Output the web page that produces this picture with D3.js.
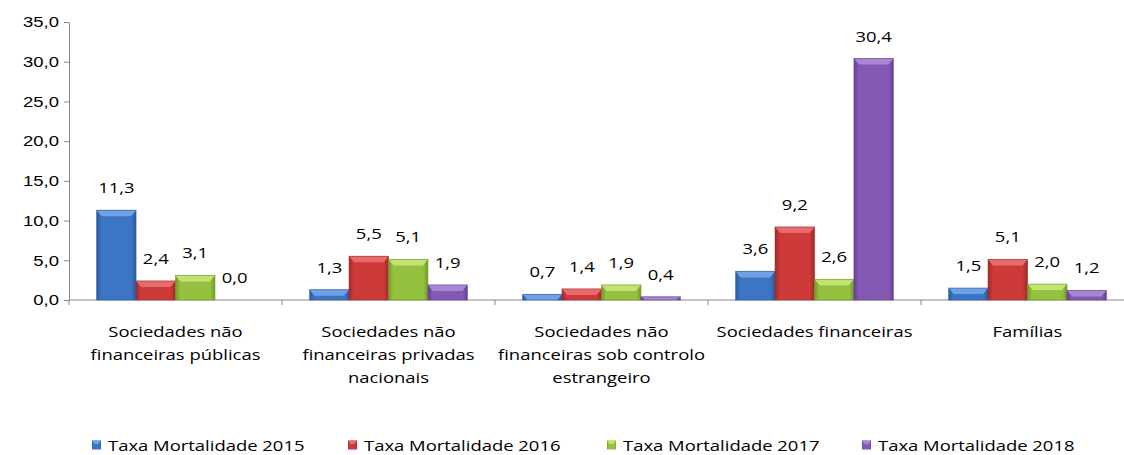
<!DOCTYPE html>
<html>
<head>
<meta charset="utf-8">
<style>
  * { margin: 0; padding: 0; }
  body { background: #fff; }
  svg { display: block; font-family: "Open Sans", "Noto Sans", sans-serif; }
  .axis path, .axis line { stroke: #878787; }
  .axis text { fill: #000; font-size: 15px; }
</style>
</head>
<body>
<script src="https://cdn.jsdelivr.net/npm/d3@7/dist/d3.min.js"></script>
<script>
// dados
const categories = [
  ["Sociedades não", "financeiras públicas"],
  ["Sociedades não", "financeiras privadas", "nacionais"],
  ["Sociedades não", "financeiras sob controlo", "estrangeiro"],
  ["Sociedades financeiras"],
  ["Famílias"]
];
const seriesNames = ["Taxa Mortalidade 2015", "Taxa Mortalidade 2016", "Taxa Mortalidade 2017", "Taxa Mortalidade 2018"];
const v2015 = [11.3, 1.3, 0.7, 3.6, 1.5];
const v2016 = [2.4, 5.5, 1.4, 9.2, 5.1];
const v2017 = [3.1, 5.1, 1.9, 2.6, 2.0];
const v2018 = [0.0, 1.9, 0.4, 30.4, 1.2];
const yTicks = [0, 5, 10, 15, 20, 25, 30, 35];

const allSeries = [v2015, v2016, v2017, v2018];
const colors = [
  {base: "#3b75c4", light: "#6fa2e2", dark: "#2a5a9e"},
  {base: "#cc3a3a", light: "#e86b6b", dark: "#a02828"},
  {base: "#94c23e", light: "#c2e274", dark: "#73982a"},
  {base: "#8459b3", light: "#a986d1", dark: "#663f94"}
];

const width = 1124, height = 455;
const margin = {top: 22, left: 69, bottom: 155};
const plotRight = 1134; // le graphique continue au-delà du bord
const sx = 1.23; // texte un peu étiré, comme dans l'original

const svg = d3.select("body").append("svg")
  .attr("width", width).attr("height", height);

const defs = svg.append("defs");
colors.forEach((c, i) => {
  const g = defs.append("linearGradient").attr("id", "g" + i)
    .attr("x1", 0).attr("x2", 1).attr("y1", 0).attr("y2", 0);
  g.append("stop").attr("offset", "0%").attr("stop-color", c.dark);
  g.append("stop").attr("offset", "12%").attr("stop-color", c.base);
  g.append("stop").attr("offset", "88%").attr("stop-color", c.base);
  g.append("stop").attr("offset", "100%").attr("stop-color", c.dark);
});

const x0 = d3.scaleBand()
  .domain(d3.range(categories.length))
  .range([margin.left, plotRight])
  .paddingInner(0).paddingOuter(0);

const x1 = d3.scaleBand()
  .domain(d3.range(allSeries.length))
  .range([0, x0.bandwidth()])
  .paddingOuter(0.7).paddingInner(0);

const y = d3.scaleLinear()
  .domain([0, 35])
  .range([height - margin.bottom, margin.top]);

const fmt = v => d3.format(".1f")(v).replace(".", ",");

// eixo y
const yAxis = svg.append("g")
  .attr("class", "axis")
  .attr("transform", `translate(${margin.left},0)`)
  .call(d3.axisLeft(y).tickValues(yTicks).tickFormat(fmt).tickSize(5).tickSizeOuter(0));
yAxis.selectAll("text")
  .attr("x", 0)
  .attr("transform", `translate(-10,0) scale(${sx},1)`);

// eixo x
const xAxis = svg.append("g")
  .attr("class", "axis")
  .attr("transform", `translate(0,${y(0)})`);
xAxis.append("line")
  .attr("x1", margin.left).attr("x2", plotRight);
xAxis.selectAll("line.tick")
  .data(d3.range(categories.length + 1))
  .join("line")
  .attr("class", "tick")
  .attr("x1", i => i < categories.length ? x0(i) : x0(i - 1) + x0.bandwidth())
  .attr("x2", i => i < categories.length ? x0(i) : x0(i - 1) + x0.bandwidth())
  .attr("y1", 0).attr("y2", 5);

// rótulos das categorias
const catText = svg.append("g").selectAll("text")
  .data(categories)
  .join("text")
  .attr("transform", (d, i) => `translate(${x0(i) + x0.bandwidth() / 2},${y(0) + 37}) scale(${sx},1)`)
  .attr("text-anchor", "middle")
  .attr("font-size", 15)
  .attr("fill", "#000");
catText.selectAll("tspan")
  .data(d => d)
  .join("tspan")
  .attr("x", 0)
  .attr("dy", (d, i) => i === 0 ? 0 : 23)
  .text(d => d);

// barras
const groups = svg.append("g").selectAll("g")
  .data(allSeries)
  .join("g");

groups.each(function(vals, si) {
  const g = d3.select(this);
  const c = colors[si];
  const bw = x1.bandwidth();
  vals.forEach((v, ci) => {
    const bx = x0(ci) + x1(si);
    const by = y(v);
    const bh = y(0) - y(v);
    if (bh > 0) {
      g.append("rect")
        .attr("x", bx).attr("y", by)
        .attr("width", bw).attr("height", bh)
        .attr("fill", `url(#g${si})`);
      const bev = Math.min(6, bh);
      g.append("path")
        .attr("d", `M${bx},${by}L${bx + bw},${by}L${bx + bw - 5},${by + bev}L${bx + 5},${by + bev}Z`)
        .attr("fill", c.light);
      g.append("rect")
        .attr("x", bx).attr("y", by)
        .attr("width", bw).attr("height", bh)
        .attr("fill", "none").attr("stroke", c.dark).attr("stroke-opacity", 0.6);
    }
    g.append("text")
      .attr("transform", `translate(${bx + bw / 2},${by - 17}) scale(${sx},1)`)
      .attr("text-anchor", "middle")
      .attr("font-size", 15)
      .attr("fill", "#000")
      .text(fmt(v));
  });
});

// legenda
const legendX = [92, 348, 607, 862];
const leg = svg.append("g").selectAll("g")
  .data(seriesNames)
  .join("g")
  .attr("transform", (d, i) => `translate(${legendX[i]},445)`);
leg.append("rect")
  .attr("x", 0).attr("y", -4.5).attr("width", 9).attr("height", 9)
  .attr("fill", (d, i) => `url(#g${i})`);
leg.append("path")
  .attr("d", "M0,-4.5L9,-4.5L6.5,-1L2.5,-1Z")
  .attr("fill", (d, i) => colors[i].light);
leg.append("text")
  .attr("transform", `translate(16,5.5) scale(${sx},1)`)
  .attr("font-size", 15)
  .attr("fill", "#000")
  .text(d => d);
</script>
</body>
</html>
